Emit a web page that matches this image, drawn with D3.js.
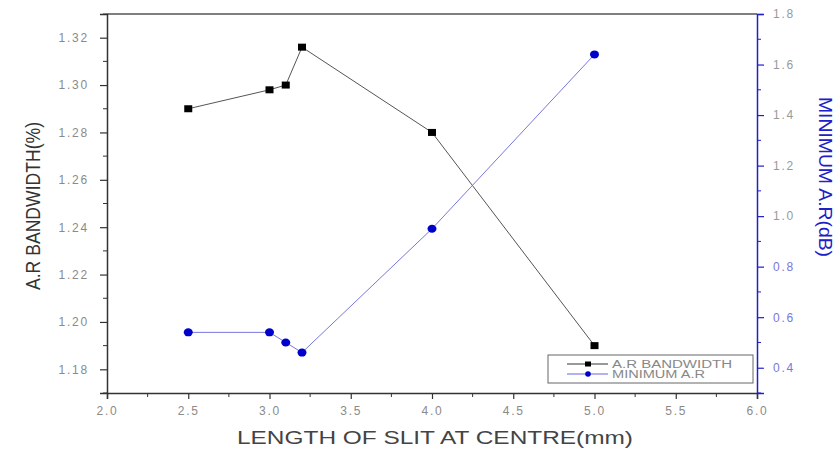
<!DOCTYPE html>
<html>
<head>
<meta charset="utf-8">
<script src="https://cdn.jsdelivr.net/npm/d3@7"></script>
<style>
  body { margin: 0; background: #fff; }
  svg { display: block; }
  text { font-family: "Liberation Sans", Arial, sans-serif; }
</style>
</head>
<body>
<svg id="chart" width="840" height="451"></svg>
<script>
// slit length (mm)
var slitLength = [2.5, 3.0, 3.1, 3.2, 4.0, 5.0];
// A.R bandwidth (%) - left axis
var arBandwidth = [1.290, 1.298, 1.300, 1.316, 1.280, 1.190];
// minimum A.R (dB) - right axis
var minimumAR = [0.54, 0.54, 0.50, 0.46, 0.95, 1.64];

var xTicks = [2.0, 2.5, 3.0, 3.5, 4.0, 4.5, 5.0, 5.5, 6.0];
var leftTicks = [1.18, 1.20, 1.22, 1.24, 1.26, 1.28, 1.30, 1.32];
var rightTicks = [0.4, 0.6, 0.8, 1.0, 1.2, 1.4, 1.6, 1.8];
var legendLabels = ["A.R BANDWIDTH", "MINIMUM A.R"];

var svg = d3.select("#chart"),
    margin = {top: 14, right: 83, bottom: 58, left: 107},
    width = 840 - margin.left - margin.right,
    height = 451 - margin.top - margin.bottom,
    g = svg.append("g").attr("transform", "translate(" + margin.left + "," + margin.top + ")");

var x = d3.scaleLinear().domain([2.0, 6.0]).range([0, width]);
var yL = d3.scaleLinear().domain([1.17, 1.33]).range([height, 0]);
var yR = d3.scaleLinear().domain([0.3, 1.8]).range([height, 0]);

var blue = "#2020c8";
var tickGrey = "#8a8a8a";

// top frame line
g.append("line")
    .attr("x1", 0).attr("x2", width)
    .attr("y1", 0).attr("y2", 0)
    .attr("stroke", "#555").attr("stroke-width", 1.5);

// minor ticks
function minor(axisG, scale, values, orient, color) {
    values.forEach(function (v) {
        var p = scale(v);
        var l = axisG.append("line").attr("stroke", color).attr("stroke-width", 1);
        if (orient === "bottom") l.attr("x1", p).attr("x2", p).attr("y1", 0).attr("y2", 4);
        if (orient === "left") l.attr("x1", 0).attr("x2", -4).attr("y1", p).attr("y2", p);
        if (orient === "right") l.attr("x1", 0).attr("x2", 4).attr("y1", p).attr("y2", p);
    });
}

function styleAxis(ax, color, labelColor) {
    ax.select(".domain").attr("stroke", color).attr("stroke-width", 1.5);
    ax.selectAll(".tick line").attr("stroke", color).attr("stroke-width", 1.2);
    ax.selectAll(".tick text").attr("fill", labelColor)
        .style("font-size", "12px")
        .style("letter-spacing", "1.8px")
        .style("font-family", "'Liberation Sans', Arial, sans-serif");
}

var xAxisG = g.append("g")
    .attr("transform", "translate(0," + height + ")")
    .call(d3.axisBottom(x).tickValues(xTicks).tickFormat(d3.format(".1f")).tickSizeOuter(0).tickSize(6).tickPadding(7));
styleAxis(xAxisG, "#333", tickGrey);
minor(xAxisG, x, d3.range(2.25, 6.0, 0.5), "bottom", "#333");

var yLAxisG = g.append("g")
    .call(d3.axisLeft(yL).tickValues(leftTicks).tickFormat(d3.format(".2f")).tickSizeOuter(0).tickSize(7).tickPadding(11));
styleAxis(yLAxisG, "#333", tickGrey);
minor(yLAxisG, yL, [1.17, 1.19, 1.21, 1.23, 1.25, 1.27, 1.29, 1.31, 1.33], "left", "#333");

var yRAxisG = g.append("g")
    .attr("transform", "translate(" + width + ",0)")
    .call(d3.axisRight(yR).tickValues(rightTicks).tickFormat(d3.format(".1f")).tickSizeOuter(0).tickSize(7).tickPadding(9));
styleAxis(yRAxisG, blue, "#8888bb");
yRAxisG.selectAll(".tick text").attr("fill", function (d) { return d < 1.0 ? "#7777dd" : "#999"; });
minor(yRAxisG, yR, [0.3, 0.5, 0.7, 0.9, 1.1, 1.3, 1.5, 1.7], "right", blue);

// axis titles
svg.append("text")
    .attr("transform", "translate(40,206) rotate(-90)")
    .attr("text-anchor", "middle")
    .attr("fill", "#333")
    .attr("textLength", 168)
    .attr("lengthAdjust", "spacingAndGlyphs")
    .style("font-size", "21px")
    .text("A.R BANDWIDTH(%)");

svg.append("text")
    .attr("transform", "translate(819,177) rotate(90)")
    .attr("text-anchor", "middle")
    .attr("fill", blue)
    .attr("textLength", 160)
    .attr("lengthAdjust", "spacingAndGlyphs")
    .style("font-size", "19px")
    .text("MINIMUM A.R(dB)");

svg.append("text")
    .attr("x", 435)
    .attr("y", 444)
    .attr("text-anchor", "middle")
    .attr("fill", "#444")
    .attr("textLength", 396)
    .attr("lengthAdjust", "spacingAndGlyphs")
    .style("font-size", "18px")
    .text("LENGTH OF SLIT AT CENTRE(mm)");

// series
var black = slitLength.map(function (d, i) { return {x: d, y: arBandwidth[i]}; });
var blues = slitLength.map(function (d, i) { return {x: d, y: minimumAR[i]}; });

g.append("path")
    .datum(black)
    .attr("fill", "none")
    .attr("stroke", "#555")
    .attr("stroke-width", 1)
    .attr("d", d3.line().x(function (d) { return x(d.x); }).y(function (d) { return yL(d.y); }));

g.append("path")
    .datum(blues)
    .attr("fill", "none")
    .attr("stroke", "#7777dd")
    .attr("stroke-width", 1)
    .attr("d", d3.line().x(function (d) { return x(d.x); }).y(function (d) { return yR(d.y); }));

g.selectAll(".sq").data(black).enter().append("rect")
    .attr("x", function (d) { return x(d.x) - 4; })
    .attr("y", function (d) { return yL(d.y) - 3.5; })
    .attr("width", 8).attr("height", 7)
    .attr("fill", "#000");

g.selectAll(".dot").data(blues).enter().append("ellipse")
    .attr("cx", function (d) { return x(d.x); })
    .attr("cy", function (d) { return yR(d.y); })
    .attr("rx", 4.5).attr("ry", 4)
    .attr("fill", "#0000cc");

// legend
var lg = svg.append("g").attr("transform", "translate(548,355)");
lg.append("rect")
    .attr("width", 205).attr("height", 28)
    .attr("fill", "#fff").attr("stroke", "#666").attr("stroke-width", 1);

legendLabels.forEach(function (label, i) {
    var yy = 9 + i * 10;
    var c = i === 0 ? "#333" : "#6666dd";
    lg.append("line").attr("x1", 19).attr("x2", 60).attr("y1", yy).attr("y2", yy)
        .attr("stroke", c).attr("stroke-width", 1);
    if (i === 0) {
        lg.append("rect").attr("x", 37).attr("y", yy - 2.5).attr("width", 6).attr("height", 5).attr("fill", "#000");
    } else {
        lg.append("circle").attr("cx", 40).attr("cy", yy).attr("r", 2.8).attr("fill", "#0000cc");
    }
    lg.append("text").attr("x", 64).attr("y", yy + 3.5)
        .attr("fill", "#888")
        .attr("textLength", i === 0 ? 120 : 93)
        .attr("lengthAdjust", "spacingAndGlyphs")
        .style("font-size", "10px")
        .text(label);
});
</script>
</body>
</html>
